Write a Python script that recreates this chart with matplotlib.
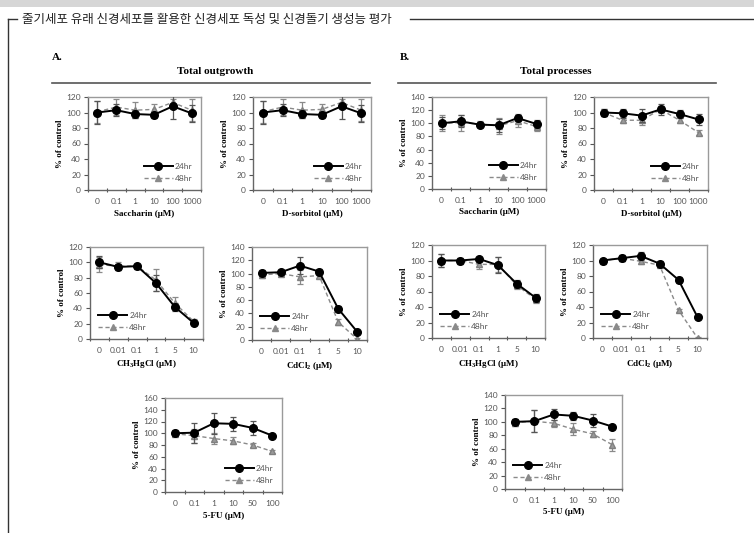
import matplotlib
matplotlib.use("Agg")
import matplotlib.pyplot as plt
from matplotlib.lines import Line2D
from matplotlib.patches import Rectangle

plt.rcParams["mathtext.fontset"] = "custom"
plt.rcParams["mathtext.rm"] = "Liberation Serif:bold"
plt.rcParams["mathtext.it"] = "Liberation Serif:bold"

W, H = 754, 533
fig = plt.figure(figsize=(W / 100, H / 100), dpi=100)
fig.patch.set_facecolor("white")

SERIF = ["Liberation Serif", "DejaVu Serif"]
TICKF = ["Lato", "DejaVu Sans"]

# ---------------- data ----------------
doses_A = ["0", "0.1", "1", "10", "100", "1000"]
doses_B = ["0", "0.01", "0.1", "1", "5", "10"]
doses_C = ["0", "0.1", "1", "10", "50", "100"]

sac_out_24 = [100, 103, 98, 97, 108, 99]
sac_out_24_err = [15, 8, 5, 4, 17, 11]
sac_out_48 = [101, 107, 103, 104, 113, 103]
sac_out_48_err = [14, 10, 10, 7, 5, 14]

sor_out_24 = [100, 103, 98, 97, 108, 99]
sor_out_24_err = [15, 8, 5, 4, 17, 11]
sor_out_48 = [101, 107, 103, 104, 113, 103]
sor_out_48_err = [14, 10, 10, 7, 5, 14]

sac_proc_24 = [100, 103, 98, 97, 108, 99]
sac_proc_24_err = [9, 9, 4, 10, 5, 6]
sac_proc_48 = [100, 101, 99, 96, 104, 95]
sac_proc_48_err = [12, 12, 4, 12, 10, 6]

sor_proc_24 = [100, 99, 96, 104, 98, 91]
sor_proc_24_err = [4, 6, 8, 7, 5, 7]
sor_proc_48 = [100, 90, 90, 104, 90, 74]
sor_proc_48_err = [4, 4, 6, 5, 3, 3]

mhg_out_24 = [100, 94, 95, 73, 42, 21]
mhg_out_24_err = [8, 4, 3, 10, 5, 3]
mhg_out_48 = [97, 95, 95, 77, 47, 23]
mhg_out_48_err = [10, 5, 3, 14, 8, 3]

cd_out_24 = [101, 102, 112, 103, 47, 12]
cd_out_24_err = [4, 3, 13, 4, 4, 2]
cd_out_48 = [98, 100, 95, 97, 27, 1]
cd_out_48_err = [4, 4, 10, 3, 4, 2]

mhg_proc_24 = [100, 100, 102, 94, 70, 52]
mhg_proc_24_err = [8, 3, 3, 10, 5, 5]
mhg_proc_48 = [100, 100, 95, 95, 68, 50]
mhg_proc_48_err = [8, 3, 6, 10, 5, 5]

cd_proc_24 = [100, 103, 106, 96, 75, 27]
cd_proc_24_err = [2, 4, 5, 3, 4, 2]
cd_proc_48 = [100, 103, 99, 94, 36, 0]
cd_proc_48_err = [2, 4, 4, 3, 2, 1]

fu_out_24 = [100, 101, 117, 116, 109, 96]
fu_out_24_err = [5, 17, 18, 12, 12, 3]
fu_out_48 = [99, 96, 91, 87, 80, 69]
fu_out_48_err = [4, 12, 10, 6, 4, 3]

fu_proc_24 = [100, 101, 111, 109, 102, 93]
fu_proc_24_err = [4, 16, 8, 6, 9, 3]
fu_proc_48 = [99, 101, 98, 89, 82, 66]
fu_proc_48_err = [5, 16, 5, 9, 4, 9]

series_labels = ["24hr", "48hr"]


def px_axes(x0, y0, x1, y1):
    return fig.add_axes([x0 / W, 1 - y1 / H, (x1 - x0) / W, (y1 - y0) / H])


def panel(box, cats, y24, e24, y48, e48, ymax, xlabel, legloc):
    ax = px_axes(*box)
    x = list(range(len(cats)))
    ax.errorbar(x, y48, yerr=e48, color="#8a8a8a", ls=(0, (3, 2)), lw=1.0,
                marker="^", ms=4.8, mfc="#9a9a9a", mec="#808080",
                ecolor="#8a8a8a", elinewidth=0.9, capsize=2, capthick=0.9,
                zorder=2, label=series_labels[1])
    ax.errorbar(x, y24, yerr=e24, color="black", lw=1.4,
                marker="o", ms=5.5, mfc="black", mec="black",
                ecolor="#555555", elinewidth=0.9, capsize=2, capthick=0.9,
                zorder=3, label=series_labels[0])
    ax.set_xlim(-0.5, len(cats) - 0.5)
    ax.set_ylim(0, ymax)
    ax.set_yticks(range(0, ymax + 1, 20))
    ax.set_yticklabels([str(v) for v in range(0, ymax + 1, 20)],
                       family=TICKF, color="#555555", fontsize=6)
    ax.set_xticks(x)
    ax.set_xticklabels(cats, family=TICKF, color="#555555", fontsize=6)
    ax.set_xticks([i + 0.5 for i in range(-1, len(cats))], minor=True)
    ax.tick_params(axis="x", which="major", length=0, pad=6)
    ax.tick_params(axis="x", which="minor", length=3, width=0.8, color="#555555", direction="inout")
    ax.tick_params(axis="y", length=3, width=0.8, color="#555555", direction="out", pad=2)
    for s in ["top", "right"]:
        ax.spines[s].set_color("#9a9a9a")
        ax.spines[s].set_linewidth(1.0)
    for s in ["left", "bottom"]:
        ax.spines[s].set_color("#666666")
        ax.spines[s].set_linewidth(1.0)
    ax.set_ylabel("% of control", family=SERIF, fontweight="bold", fontsize=6.5, labelpad=2)
    ax.set_xlabel(xlabel, family=SERIF, fontweight="bold", fontsize=6.5, labelpad=3)
    handles = [
        Line2D([], [], color="black", lw=1.4, marker="o", ms=5.5),
        Line2D([], [], color="#8a8a8a", lw=1.0, ls=(0, (3, 2)), marker="^", ms=4.8),
    ]
    leg = ax.legend(handles, series_labels, loc=legloc, frameon=False,
                    prop={"family": TICKF, "size": 6}, handlelength=3.4,
                    handletextpad=0.3, labelspacing=0.6, borderaxespad=0.6)
    for t in leg.get_texts():
        t.set_color("#555555")
    return ax


panel((88, 97, 201, 190), doses_A, sac_out_24, sac_out_24_err, sac_out_48, sac_out_48_err,
      120, "Saccharin (μM)", "lower right")
panel((253, 97, 371, 190), doses_A, sor_out_24, sor_out_24_err, sor_out_48, sor_out_48_err,
      120, "D-sorbitol (μM)", "lower right")
panel((432, 97, 546, 189), doses_A, sac_proc_24, sac_proc_24_err, sac_proc_48, sac_proc_48_err,
      140, "Saccharin (μM)", "lower right")
panel((594, 97, 708, 190), doses_A, sor_proc_24, sor_proc_24_err, sor_proc_48, sor_proc_48_err,
      120, "D-sorbitol (μM)", "lower right")

panel((90, 247, 203, 339), doses_B, mhg_out_24, mhg_out_24_err, mhg_out_48, mhg_out_48_err,
      120, r"CH$_3$HgCl (μM)", "lower left")
panel((252, 247, 367, 340), doses_B, cd_out_24, cd_out_24_err, cd_out_48, cd_out_48_err,
      140, r"CdCl$_2$ (μM)", "lower left")
panel((432, 245, 545, 338), doses_B, mhg_proc_24, mhg_proc_24_err, mhg_proc_48, mhg_proc_48_err,
      120, r"CH$_3$HgCl (μM)", "lower left")
panel((593, 245, 707, 338), doses_B, cd_proc_24, cd_proc_24_err, cd_proc_48, cd_proc_48_err,
      120, r"CdCl$_2$ (μM)", "lower left")

panel((165, 398, 282, 492), doses_C, fu_out_24, fu_out_24_err, fu_out_48, fu_out_48_err,
      160, "5-FU (μM)", "lower right")
panel((505, 395, 622, 489), doses_C, fu_proc_24, fu_proc_24_err, fu_proc_48, fu_proc_48_err,
      140, "5-FU (μM)", "lower left")

# ---------------- decorations ----------------
def fx(px):
    return px / W


def fy(py):
    return 1 - py / H


fig.patches.append(Rectangle((0, fy(7)), 1, 7 / H, transform=fig.transFigure,
                             facecolor="#d6d6d6", edgecolor="none"))
fig.add_artist(Line2D([fx(8), fx(17)], [fy(19), fy(19)], color="#333333", lw=1.0))
fig.add_artist(Line2D([fx(8), fx(8)], [fy(19), fy(533)], color="#333333", lw=1.0))
fig.add_artist(Line2D([fx(410), fx(754)], [fy(19), fy(19)], color="#333333", lw=1.0))
fig.text(fx(22), fy(19), "줄기세포 유래 신경세포를 활용한 신경세포 독성 및 신경돌기 생성능 평가",
         family=["Noto Sans CJK KR", "DejaVu Sans"], fontsize=9.0, va="center", ha="left",
         color="#222222")

fig.text(fx(52), fy(58), "A.", family=SERIF, fontweight="bold", fontsize=8, va="center")
fig.text(fx(400), fy(58), "B.", family=SERIF, fontweight="bold", fontsize=8, va="center")
fig.text(fx(215), fy(72), "Total outgrowth", family=SERIF, fontweight="bold", fontsize=8,
         va="center", ha="center")
fig.text(fx(556), fy(72), "Total processes", family=SERIF, fontweight="bold", fontsize=8,
         va="center", ha="center")
fig.add_artist(Line2D([fx(52), fx(370)], [fy(83), fy(83)], color="#555555", lw=1.2))
fig.add_artist(Line2D([fx(398), fx(716)], [fy(83), fy(83)], color="#555555", lw=1.2))

fig.savefig("out.png", dpi=100)
